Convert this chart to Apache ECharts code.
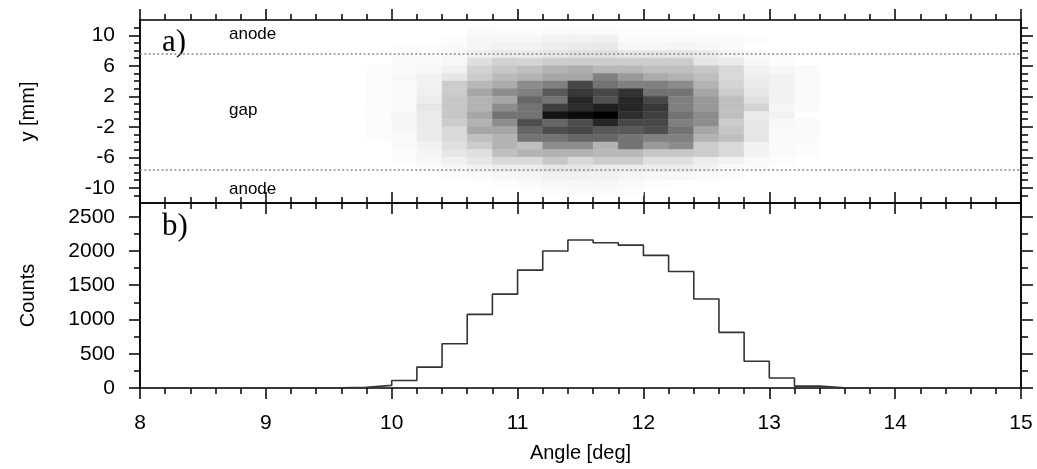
<!DOCTYPE html>
<html>
<head>
<meta charset="utf-8">
<script src="https://cdn.jsdelivr.net/npm/echarts@6/dist/echarts.min.js"></script>
<style>
html, body { margin: 0; padding: 0; background: #fff; }
#chart { width: 1037px; height: 469px; }
</style>
</head>
<body>
<div id="chart"></div>
<script>
// b) histogram: left edge of each 0.2 deg bin, last entry closes the last bin
const binEdges = [8.0, 8.2, 8.4, 8.6, 8.8, 9.0, 9.2, 9.4, 9.6, 9.8,
                  10.0, 10.2, 10.4, 10.6, 10.8, 11.0, 11.2, 11.4, 11.6, 11.8,
                  12.0, 12.2, 12.4, 12.6, 12.8, 13.0, 13.2, 13.4, 13.6, 13.8,
                  14.0, 14.2, 14.4, 14.6, 14.8, 15.0];
const counts = [0, 0, 0, 0, 0, 0, 0, 2, 12, 38,
                110, 305, 645, 1075, 1370, 1720, 2000, 2160, 2120, 2085,
                1935, 1700, 1300, 812, 390, 145, 28, 4, 0, 0,
                0, 0, 0, 0, 0];

// a) y vs angle map, grey level 0 (white) .. 100 (black)
const heatX = [9.8, 10.0, 10.2, 10.4, 10.6, 10.8, 11.0, 11.2, 11.4, 11.6,
               11.8, 12.0, 12.2, 12.4, 12.6, 12.8, 13.0, 13.2];   // column left edges
const heatY = [10, 9, 8, 7, 6, 5, 4, 3, 2, 1, 0, -1, -2, -3, -4, -5, -6, -7, -8, -9, -10, -11]; // row lower edges
const heatRows = [
  [0, 0, 0, 0, 2, 1, 1, 2, 2, 2, 1, 1, 1, 0, 0, 0, 0, 0],
  [0, 0, 0, 1, 3, 3, 3, 5, 5, 6, 2, 2, 2, 2, 2, 1, 0, 0],
  [0, 1, 1, 2, 4, 5, 5, 7, 8, 9, 3, 3, 4, 3, 2, 0, 0, 0],
  [0, 1, 1, 3, 6, 8, 8, 10, 12, 12, 10, 10, 10, 8, 4, 2, 1, 0],
  [0, 2, 2, 3, 13, 18, 17, 20, 20, 20, 20, 20, 20, 10, 8, 3, 1, 0],
  [1, 2, 3, 5, 18, 22, 25, 30, 32, 28, 28, 25, 25, 22, 15, 5, 3, 2],
  [1, 3, 5, 10, 20, 27, 30, 35, 35, 50, 40, 33, 30, 25, 15, 7, 5, 2],
  [1, 2, 5, 20, 28, 33, 45, 50, 72, 55, 50, 50, 45, 30, 17, 8, 5, 2],
  [1, 2, 6, 20, 35, 45, 50, 65, 78, 72, 80, 55, 55, 35, 20, 10, 5, 2],
  [1, 2, 7, 22, 30, 35, 60, 55, 85, 68, 85, 72, 50, 40, 25, 12, 5, 2],
  [1, 2, 10, 22, 30, 45, 55, 75, 82, 88, 85, 78, 50, 40, 25, 17, 3, 2],
  [1, 4, 8, 22, 35, 55, 55, 92, 96, 100, 82, 75, 55, 45, 25, 8, 5, 0],
  [1, 3, 8, 20, 30, 45, 70, 60, 70, 85, 72, 72, 50, 45, 20, 10, 3, 2],
  [1, 3, 8, 15, 35, 35, 60, 70, 72, 65, 65, 70, 55, 35, 22, 10, 2, 2],
  [1, 2, 8, 15, 25, 30, 55, 55, 60, 60, 55, 50, 50, 30, 25, 10, 2, 2],
  [0, 2, 5, 12, 20, 30, 25, 45, 45, 30, 55, 40, 45, 20, 15, 5, 2, 1],
  [0, 1, 4, 10, 12, 25, 30, 30, 30, 28, 28, 22, 22, 20, 15, 5, 2, 1],
  [0, 1, 3, 6, 10, 15, 15, 22, 15, 20, 20, 12, 12, 7, 5, 2, 1, 0],
  [0, 0, 1, 3, 5, 7, 7, 10, 10, 8, 7, 7, 7, 5, 2, 1, 0, 0],
  [0, 0, 0, 1, 2, 3, 4, 5, 5, 5, 4, 3, 3, 2, 1, 0, 0, 0],
  [0, 0, 0, 0, 0, 1, 2, 3, 3, 3, 2, 1, 0, 0, 0, 0, 0, 0],
  [0, 0, 0, 0, 0, 0, 0, 1, 2, 2, 1, 0, 0, 0, 0, 0, 0, 0]
];
const gapLines = [7.6, -7.6];

// tick labels
const yMajor = [-10, -6, -2, 2, 6, 10];
const yMinor = [-11, -9, -8, -7, -5, -4, -3, -1, 0, 1, 3, 4, 5, 7, 8, 9, 11];
const countMajor = [0, 500, 1000, 1500, 2000, 2500];
const countMinor = [250, 750, 1250, 1750, 2250];

const cellW = heatX[1] - heatX[0];
const cellH = heatY[0] - heatY[1];
const heatData = [];
heatRows.forEach(function (row, i) {
  row.forEach(function (v, j) {
    if (v > 0) heatData.push([heatX[j], heatY[i], v]);
  });
});
const histData = counts.map(function (c, i) { return [binEdges[i], c]; });
histData.push([binEdges[binEdges.length - 1], counts[counts.length - 1]]);

const black = { color: '#000', width: 1.5 };
const sans = 'Liberation Sans, Arial, sans-serif';

function xAx(gridIndex, position, labels, name) {
  return {
    type: 'value', gridIndex: gridIndex, position: position, min: 8, max: 15, interval: 1,
    name: name || '', nameLocation: 'middle', nameGap: 55,
    nameTextStyle: { fontSize: 20, color: '#000', fontFamily: sans },
    axisLine: { show: true, onZero: false, lineStyle: black },
    axisTick: { show: true, inside: false, length: 11, lineStyle: black },
    minorTick: { show: true, splitNumber: 5, length: 6, lineStyle: black },
    axisLabel: { show: labels, margin: 25, fontSize: 21, color: '#000', fontFamily: sans },
    splitLine: { show: false }, minorSplitLine: { show: false }
  };
}

function yAx(gridIndex, position, min, max, ticks, len, labels, name) {
  return {
    type: 'value', gridIndex: gridIndex, position: position, min: min, max: max,
    name: name || '', nameLocation: 'middle', nameGap: 102,
    nameTextStyle: { fontSize: 20, color: '#000', fontFamily: sans },
    axisLine: { show: true, onZero: false, lineStyle: black },
    axisTick: { show: true, inside: false, length: len, customValues: ticks, lineStyle: black },
    axisLabel: {
      show: labels, customValues: ticks, margin: 25, fontSize: 21, color: '#000', fontFamily: sans,
      formatter: function (v) { return String(v); }
    },
    splitLine: { show: false }
  };
}

const chart = echarts.init(document.getElementById('chart'));
chart.setOption({
  animation: false,
  backgroundColor: '#fff',
  grid: [
    { left: 140, right: 16, top: 20, height: 183, outerBoundsMode: 'none' },
    { left: 140, right: 16, top: 203, height: 185, outerBoundsMode: 'none' }
  ],
  xAxis: [
    xAx(0, 'bottom', false),
    xAx(0, 'top', false),
    xAx(1, 'bottom', true, 'Angle [deg]'),
    xAx(1, 'top', false)
  ],
  yAxis: [
    yAx(0, 'left', -12, 12, yMinor, 6, false),
    yAx(0, 'left', -12, 12, yMajor, 11, true, 'y [mm]'),
    yAx(0, 'right', -12, 12, yMinor, 7, false),
    yAx(0, 'right', -12, 12, yMajor, 12, false),
    yAx(1, 'left', 0, 2700, countMinor, 6, false),
    yAx(1, 'left', 0, 2700, countMajor, 11, true, 'Counts'),
    yAx(1, 'right', 0, 2700, countMinor, 7, false),
    yAx(1, 'right', 0, 2700, countMajor, 12, false)
  ],
  series: [
    {
      type: 'custom',
      xAxisIndex: 0, yAxisIndex: 0,
      data: heatData,
      encode: { x: 0, y: 1 },
      clip: true,
      renderItem: function (params, api) {
        const x0 = api.value(0), y0 = api.value(1), d = api.value(2);
        const p0 = api.coord([x0, y0 + cellH]);
        const p1 = api.coord([x0 + cellW, y0]);
        const g = Math.round(255 * (1 - d / 100));
        const c = 'rgb(' + g + ',' + g + ',' + g + ')';
        return {
          type: 'rect',
          shape: { x: p0[0], y: p0[1], width: p1[0] - p0[0], height: p1[1] - p0[1] },
          style: { fill: c, stroke: c, lineWidth: 0.5 }
        };
      },
      markLine: {
        silent: true, symbol: 'none', label: { show: false },
        lineStyle: { type: [2, 2.3], color: '#8c8c8c', width: 1.6 },
        data: gapLines.map(function (v) { return { yAxis: v }; })
      }
    },
    {
      type: 'line',
      xAxisIndex: 2, yAxisIndex: 4,
      step: 'end',
      showSymbol: false,
      data: histData,
      lineStyle: { color: '#333', width: 1.6 }
    }
  ],
  graphic: [
    { type: 'text', left: 162, top: 27, style: { text: 'a)', font: '31px Liberation Serif', fill: '#000' } },
    { type: 'text', left: 162, top: 211, style: { text: 'b)', font: '31px Liberation Serif', fill: '#000' } },
    { type: 'text', left: 229, top: 26, style: { text: 'anode', font: '17px ' + sans, fill: '#000' } },
    { type: 'text', left: 229, top: 102, style: { text: 'gap', font: '17px ' + sans, fill: '#000' } },
    { type: 'text', left: 229, top: 181, style: { text: 'anode', font: '17px ' + sans, fill: '#000' } }
  ]
});
</script>
</body>
</html>
